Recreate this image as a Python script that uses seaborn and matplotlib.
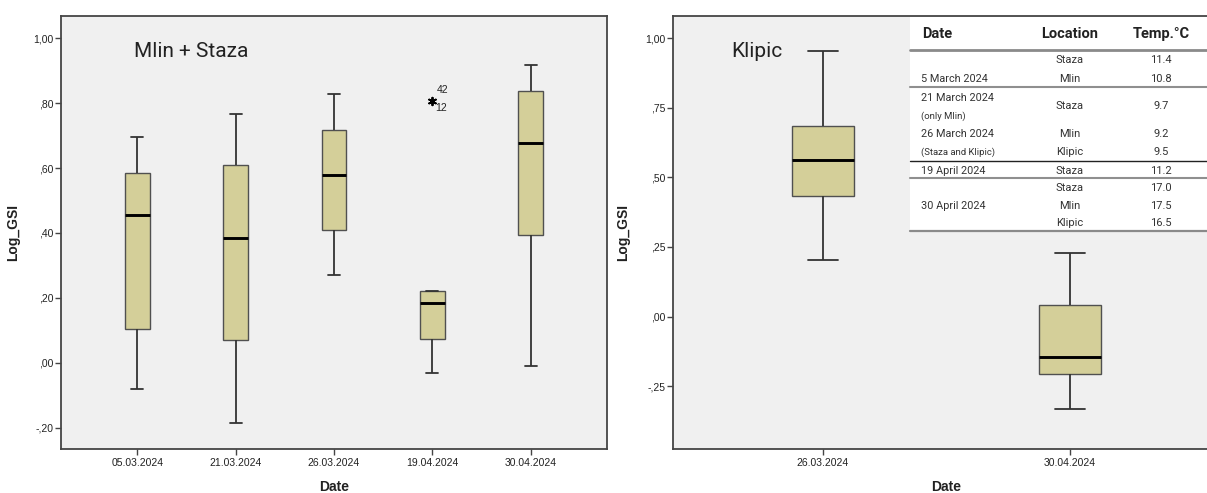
import numpy as np
import pandas as pd
import matplotlib
matplotlib.use("Agg")
import matplotlib.pyplot as plt
from matplotlib.patches import Rectangle
from matplotlib.lines import Line2D
from matplotlib.ticker import FuncFormatter
import seaborn as sns

# ---------------- data (five-number summaries) -------------
left_dates = ["05.03.2024", "21.03.2024", "26.03.2024", "19.04.2024", "30.04.2024"]
left_low = [-0.081, -0.186, 0.270, -0.030, -0.011]
left_q1 = [0.103, 0.070, 0.408, 0.074, 0.395]
left_med = [0.456, 0.386, 0.578, 0.183, 0.676]
left_q3 = [0.584, 0.608, 0.716, 0.220, 0.837]
left_high = [0.694, 0.767, 0.829, 0.220, 0.918]
outlier_dates = ["19.04.2024", "19.04.2024"]
outlier_vals = [0.805, 0.805]
outlier_ids = ["42", "12"]

right_dates = ["26.03.2024", "30.04.2024"]
right_low = [0.204, -0.330]
right_q1 = [0.433, -0.205]
right_med = [0.563, -0.145]
right_q3 = [0.683, 0.042]
right_high = [0.954, 0.227]

left_yticks = [-0.2, 0.0, 0.2, 0.4, 0.6, 0.8, 1.0]
right_yticks = [-0.25, 0.0, 0.25, 0.5, 0.75, 1.0]

table_header = ["Date", "Location", "Temp.°C"]
table_loc = ["Staza", "Mlin", "Staza", "Mlin", "Klipic", "Staza", "Staza", "Mlin", "Klipic"]
table_temp = ["11.4", "10.8", "9.7", "9.2", "9.5", "11.2", "17.0", "17.5", "16.5"]
table_dates = ["5 March 2024", "21 March 2024", "(only Mlin)", "26 March 2024",
               "(Staza and Klipic)", "19 April 2024", "30 April 2024"]


def long_df(dates, *cols):
    rows = []
    for i, d in enumerate(dates):
        for c in cols:
            rows.append({"Date": d, "Log_GSI": c[i]})
    return pd.DataFrame(rows)


left_df = long_df(left_dates, left_low, left_q1, left_med, left_q3, left_high)
right_df = long_df(right_dates, right_low, right_q1, right_med, right_q3, right_high)
out_df = pd.DataFrame({"Date": outlier_dates, "Log_GSI": outlier_vals})

# ---------------- style ----------------
sns.set_theme(style="white")
plt.rcParams["font.family"] = ["Liberation Sans Narrow", "Liberation Sans", "DejaVu Sans"]
plt.rcParams["axes.facecolor"] = "#f0f0f0"
plt.rcParams["axes.edgecolor"] = "#454545"

W, H = 1207, 493
fig = plt.figure(figsize=(W / 100, H / 100), dpi=100)
fig.patch.set_facecolor("white")


def fx(x):
    return x / W


def fy(y):
    return 1 - y / H


ax1 = fig.add_axes([fx(61), fy(449), fx(607) - fx(61), fy(16) - fy(449)])
ax2 = fig.add_axes([fx(673), fy(449), fx(1220) - fx(673), fy(16) - fy(449)])

box_color = "#d4cf99"
common = dict(x="Date", y="Log_GSI", whis=(0, 100), width=0.25, color=box_color,
              saturation=1, linecolor="#333333", linewidth=1.3,
              medianprops=dict(color="black", linewidth=2.1),
              boxprops=dict(edgecolor="#505050", linewidth=1.0))

sns.boxplot(data=left_df, order=left_dates, ax=ax1, **common)
sns.boxplot(data=right_df, order=right_dates, ax=ax2, **common)

sns.stripplot(data=out_df, x="Date", y="Log_GSI", order=left_dates, jitter=False,
              marker=(6, 2, 0), color="black", size=5.5, linewidth=1.2,
              edgecolor="black", ax=ax1)

ax1.annotate(outlier_ids[0], xy=(left_dates.index(outlier_dates[0]), outlier_vals[0]),
             xytext=(4, 6), textcoords="offset pixels", fontsize=7.5,
             ha="left", va="bottom", color="#222222")
ax1.annotate(outlier_ids[1], xy=(left_dates.index(outlier_dates[1]), outlier_vals[1]),
             xytext=(3, -2), textcoords="offset pixels", fontsize=7.5,
             ha="left", va="top", color="#222222")


def fmt(v, pos=None):
    s = f"{v:.2f}"
    if s.startswith("0."):
        s = s[1:]
    elif s.startswith("-0."):
        s = "-" + s[2:]
    return s.replace(".", ",")


for ax, ticks, ylim, xlim in [
    (ax1, left_yticks, (-0.265, 1.068), (-0.776, 4.776)),
    (ax2, right_yticks, (-0.475, 1.079), (-0.607, 1.607)),
]:
    ax.set_ylim(*ylim)
    ax.set_xlim(*xlim)
    ax.set_yticks(ticks)
    ax.yaxis.set_major_formatter(FuncFormatter(fmt))
    ax.tick_params(axis="both", direction="out", length=4, width=1, color="#454545",
                   labelsize=7.5, pad=1.5, labelcolor="#222222")
    ax.tick_params(axis="y", left=True)
    ax.tick_params(axis="x", bottom=True, pad=2.5)
    for sp in ax.spines.values():
        sp.set_linewidth(1.3)
        sp.set_color("#454545")
    ax.set_xlabel("Date", fontsize=10, fontweight="bold", family=["Liberation Sans"],
                  color="#222222")
    ax.set_ylabel("Log_GSI", fontsize=10, fontweight="bold", family=["Liberation Sans"],
                  color="#222222")

ax1.xaxis.set_label_coords(0.5, -0.072)
ax2.xaxis.set_label_coords(0.5, -0.072)
ax1.yaxis.set_label_coords(-0.075, 0.5)
ax2.yaxis.set_label_coords(-0.078, 0.5)

ax1.text(fx(134), fy(57), "Mlin + Staza", transform=fig.transFigure, fontsize=15,
         family=["Roboto"], color="#222222", ha="left", va="baseline")
ax2.text(fx(731), fy(57), "Klipic", transform=fig.transFigure, fontsize=15,
         family=["Roboto"], color="#222222", ha="left", va="baseline")

# ---------------- table overlay ----------------
fig.add_artist(Rectangle((fx(910), fy(231)), fx(1207) - fx(910), fy(17.5) - fy(231),
                         transform=fig.transFigure, facecolor="white",
                         edgecolor="none", zorder=1))

tfont = ["Roboto"]
hdr_y = 34
fig.text(fx(922), fy(hdr_y), table_header[0], fontsize=10.5, fontweight="bold",
         family=tfont, ha="left", va="center", color="#222222", zorder=2)
fig.text(fx(1070), fy(hdr_y), table_header[1], fontsize=10.5, fontweight="bold",
         family=tfont, ha="center", va="center", color="#222222", zorder=2)
fig.text(fx(1161), fy(hdr_y), table_header[2], fontsize=10.5, fontweight="bold",
         family=tfont, ha="center", va="center", color="#222222", zorder=2)

row_y = [60.3, 79, 106, 134.3, 152.3, 170.7, 188.3, 205.7, 223.3]
for loc, tmp, y in zip(table_loc, table_temp, row_y):
    fig.text(fx(1070), fy(y), loc, fontsize=8, family=tfont, ha="center",
             va="center", color="#333333", zorder=2)
    fig.text(fx(1161), fy(y), tmp, fontsize=8, family=tfont, ha="center",
             va="center", color="#333333", zorder=2)

date_y = [79, 98.3, 116.7, 134.3, 152.3, 170.7, 205.7]
date_fs = [7.8, 7.8, 6.8, 7.8, 6.8, 7.8, 7.8]
for txt, y, fs in zip(table_dates, date_y, date_fs):
    fig.text(fx(921), fy(y), txt, fontsize=fs, family=tfont, ha="left",
             va="center", color="#333333", zorder=2)

for y, col, lw in [(50, "#8a8a8a", 2.0), (87.3, "#8f8f8f", 1.5), (160.7, "#222222", 1.0),
                   (178.3, "#8f8f8f", 1.5), (230.7, "#8a8a8a", 1.6)]:
    fig.add_artist(Line2D([fx(910), fx(1207)], [fy(y), fy(y)], transform=fig.transFigure,
                          color=col, linewidth=lw, zorder=2))

fig.savefig("out.png", dpi=100)
